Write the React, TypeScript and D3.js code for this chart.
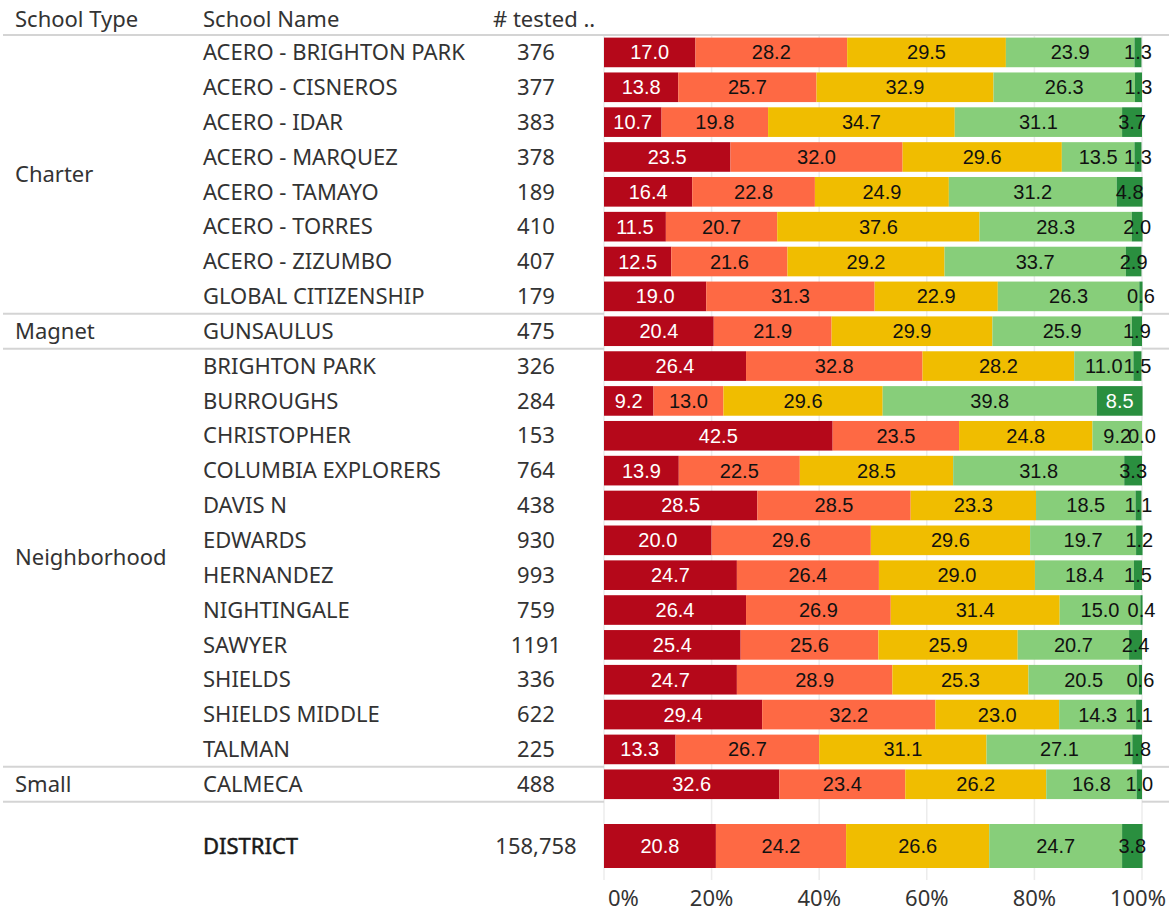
import * as d3 from "d3";

// categories
const schoolTypes = ["Charter", "Magnet", "Neighborhood", "Small"];
const schoolTypeOf = [
  "Charter", "Charter", "Charter", "Charter", "Charter", "Charter", "Charter", "Charter",
  "Magnet",
  "Neighborhood", "Neighborhood", "Neighborhood", "Neighborhood", "Neighborhood", "Neighborhood",
  "Neighborhood", "Neighborhood", "Neighborhood", "Neighborhood", "Neighborhood", "Neighborhood",
  "Small",
];
const schoolNames = [
  "ACERO - BRIGHTON PARK", "ACERO - CISNEROS", "ACERO - IDAR", "ACERO - MARQUEZ",
  "ACERO - TAMAYO", "ACERO - TORRES", "ACERO - ZIZUMBO", "GLOBAL CITIZENSHIP",
  "GUNSAULUS",
  "BRIGHTON PARK", "BURROUGHS", "CHRISTOPHER", "COLUMBIA EXPLORERS", "DAVIS N", "EDWARDS",
  "HERNANDEZ", "NIGHTINGALE", "SAWYER", "SHIELDS", "SHIELDS MIDDLE", "TALMAN",
  "CALMECA",
];
const tested = [376, 377, 383, 378, 189, 410, 407, 179, 475, 326, 284, 153, 764, 438, 930, 993, 759, 1191, 336, 622, 225, 488];

// percent in each level, per school
const level1 = [17.0, 13.8, 10.7, 23.5, 16.4, 11.5, 12.5, 19.0, 20.4, 26.4, 9.2, 42.5, 13.9, 28.5, 20.0, 24.7, 26.4, 25.4, 24.7, 29.4, 13.3, 32.6];
const level2 = [28.2, 25.7, 19.8, 32.0, 22.8, 20.7, 21.6, 31.3, 21.9, 32.8, 13.0, 23.5, 22.5, 28.5, 29.6, 26.4, 26.9, 25.6, 28.9, 32.2, 26.7, 23.4];
const level3 = [29.5, 32.9, 34.7, 29.6, 24.9, 37.6, 29.2, 22.9, 29.9, 28.2, 29.6, 24.8, 28.5, 23.3, 29.6, 29.0, 31.4, 25.9, 25.3, 23.0, 31.1, 26.2];
const level4 = [23.9, 26.3, 31.1, 13.5, 31.2, 28.3, 33.7, 26.3, 25.9, 11.0, 39.8, 9.2, 31.8, 18.5, 19.7, 18.4, 15.0, 20.7, 20.5, 14.3, 27.1, 16.8];
const level5 = [1.3, 1.3, 3.7, 1.3, 4.8, 2.0, 2.9, 0.6, 1.9, 1.5, 8.5, 0.0, 3.3, 1.1, 1.2, 1.5, 0.4, 2.4, 0.6, 1.1, 1.8, 1.0];

const districtName = "DISTRICT";
const districtTested = "158,758";
const districtLevels = [20.8, 24.2, 26.6, 24.7, 3.8];

const tickValues = [0, 20, 40, 60, 80, 100];
const levelColors = ["#b5081a", "#fe6944", "#f0bd00", "#87ce7a", "#2a8f3f"];
const darkLevels = [true, false, false, false, true];

const W = 1169;
const H = 911;
const uiFont = "'Noto Sans', sans-serif";
const uiFs = 22;
const barFont = "'Liberation Sans', Arial, sans-serif";
const textColor = "#333";
const lineColor = "#d4d4d4";
const gridColor = "#ececec";

function labelWidth(s: string, fs: number) {
  let w = 0;
  for (const c of s) w += c === "." ? 0.278 : 0.556;
  return w * fs;
}

export default function App() {
  const x = d3.scaleLinear().domain([0, 100]).range([604, 1142]);
  const y = d3
    .scaleBand<number>()
    .domain(d3.range(schoolNames.length))
    .range([35, 801.7])
    .paddingInner(0.15)
    .paddingOuter(0.075);
  const barFs = 20;

  const rows = schoolNames.map((name, i) => ({
    name,
    tested: String(tested[i]),
    levels: [level1[i], level2[i], level3[i], level4[i], level5[i]],
    top: y(i)!,
    h: y.bandwidth(),
  }));
  const district = {
    name: districtName,
    tested: districtTested,
    levels: districtLevels,
    top: 824,
    h: 44,
  };

  const segs = (r: typeof district, key: string) => {
    let acc = 0;
    return r.levels.map((v, j) => {
      const x0 = x(acc);
      acc += v;
      const x1 = x(acc);
      const label = v.toFixed(1);
      const fits = labelWidth(label, barFs) + 3 < x1 - x0;
      const fill = darkLevels[j] && fits ? "#fff" : "#111";
      return (
        <g key={key + j}>
          <rect x={x0} y={r.top} width={Math.max(0, x1 - x0)} height={r.h} fill={levelColors[j]} />
          <text
            x={(x0 + x1) / 2}
            y={r.top + r.h / 2}
            dy="0.35em"
            textAnchor="middle"
            fontFamily={barFont}
            fontSize={barFs}
            fill={fill}
          >
            {label}
          </text>
        </g>
      );
    });
  };

  // groups of school types
  const groups = schoolTypes.map((t) => {
    const idx = schoolTypeOf.map((s, i) => (s === t ? i : -1)).filter((i) => i >= 0);
    const first = idx[0];
    const last = idx[idx.length - 1];
    const top = y(first)! - (y.step() - y.bandwidth()) / 2;
    const bottom = y(last)! + y.bandwidth() + (y.step() - y.bandwidth()) / 2;
    return { t, top, bottom };
  });

  return (
    <svg
      width={W}
      height={H}
      style={{ position: "absolute", left: 0, top: 0, background: "#fff" }}
    >
      {/* gridlines */}
      {tickValues.map((t) => (
        <line key={"g" + t} x1={x(t)} x2={x(t)} y1={35} y2={880} stroke={gridColor} strokeWidth={1.5} />
      ))}

      {/* header */}
      <g fontFamily={uiFont} fontSize={uiFs} fill={textColor}>
        <text x={15} y={19} dy="0.35em">School Type</text>
        <text x={203} y={19} dy="0.35em">School Name</text>
        <text x={493} y={19} dy="0.35em"># tested ..</text>
      </g>
      <line x1={3} x2={W} y1={35} y2={35} stroke={lineColor} strokeWidth={2} />

      {/* group separators */}
      {groups.map((g) => (
        <g key={"sep" + g.t}>
          <line x1={3} x2={604} y1={g.bottom} y2={g.bottom} stroke={lineColor} strokeWidth={2} />
          <line x1={1142} x2={W} y1={g.bottom} y2={g.bottom} stroke={lineColor} strokeWidth={2} />
        </g>
      ))}

      {/* school type labels */}
      <g fontFamily={uiFont} fontSize={uiFs} fill={textColor}>
        {groups.map((g) => (
          <text key={"t" + g.t} x={15} y={(g.top + g.bottom) / 2} dy="0.35em">
            {g.t}
          </text>
        ))}
      </g>

      {/* rows */}
      {rows.map((r, i) => (
        <g key={"r" + i}>
          <text x={203} y={r.top + r.h / 2} dy="0.35em" fontFamily={uiFont} fontSize={uiFs} fill={textColor}>
            {r.name}
          </text>
          <text x={536} y={r.top + r.h / 2} dy="0.35em" textAnchor="middle" fontFamily={uiFont} fontSize={uiFs} fill={textColor}>
            {r.tested}
          </text>
          {segs(r, "s" + i + "-")}
        </g>
      ))}

      {/* district */}
      <text
        x={203}
        y={district.top + district.h / 2}
        dy="0.35em"
        fontFamily={uiFont}
        fontSize={uiFs}
        fill="#1a1a1a"
        stroke="#1a1a1a"
        strokeWidth={0.5}
      >
        {district.name}
      </text>
      <text x={536} y={district.top + district.h / 2} dy="0.35em" textAnchor="middle" fontFamily={uiFont} fontSize={uiFs} fill={textColor}>
        {district.tested}
      </text>
      {segs(district, "d")}

      {/* axis */}
      <g fontFamily={uiFont} fontSize={uiFs} fill={textColor}>
        {tickValues.map((t, k) => (
          <text
            key={"a" + t}
            x={k === 0 ? x(t) + 4 : k === tickValues.length - 1 ? W - 3 : x(t)}
            y={898}
            dy="0.35em"
            textAnchor={k === 0 ? "start" : k === tickValues.length - 1 ? "end" : "middle"}
          >
            {t + "%"}
          </text>
        ))}
      </g>
    </svg>
  );
}
